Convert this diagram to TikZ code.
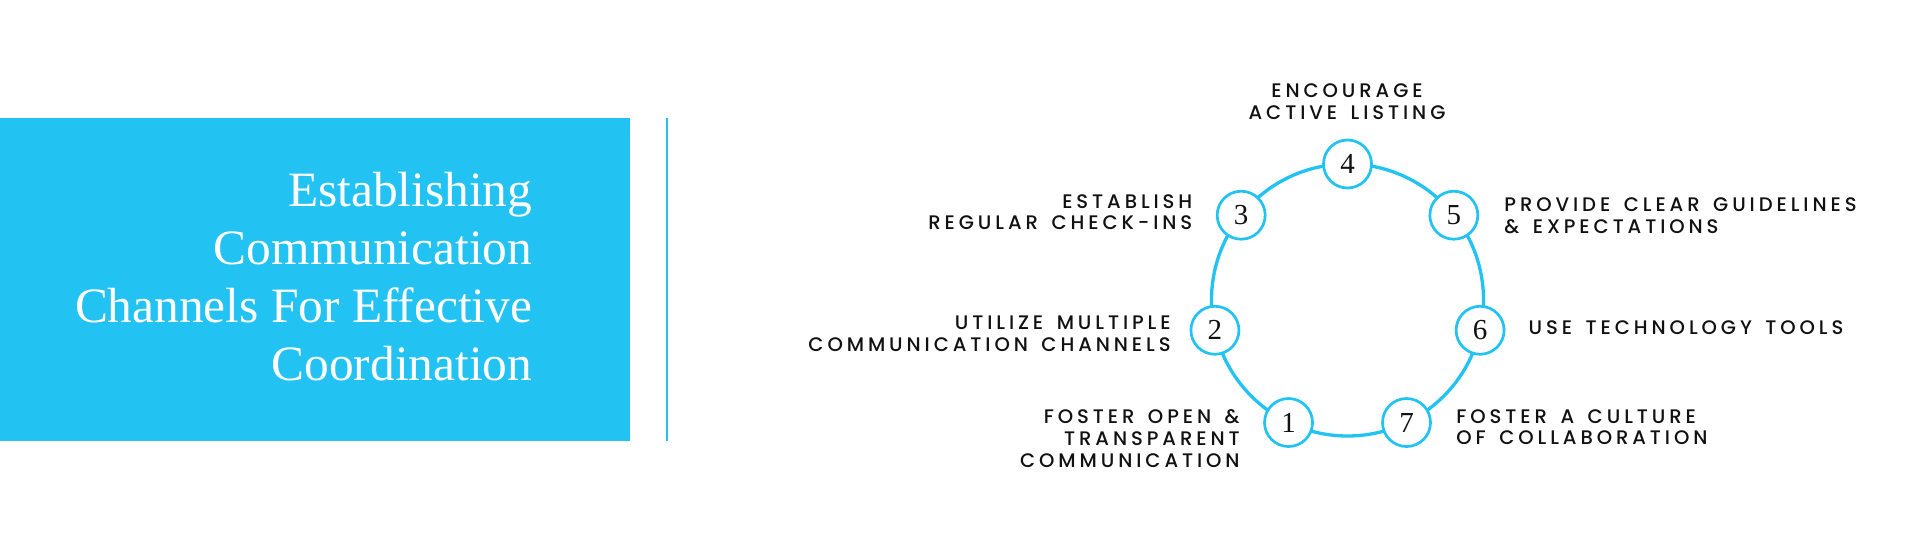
\documentclass[tikz,border=0pt]{standalone}
\usepackage{fontspec}
\setmainfont{Liberation Serif}
\newfontfamily\labfont{Poppins}[UprightFont=* Medium, LetterSpace=20, WordSpace=1.5]
\definecolor{cblue}{HTML}{22C3F3}
\definecolor{ink}{HTML}{111111}
\tikzset{
  lab/.style={font=\labfont\fontsize{9.8pt}{10.85pt}\selectfont, text=ink, inner sep=0pt},
  num/.style={circle, draw=cblue, line width=1.35pt, fill=white, minimum size=24pt, inner sep=0pt, font=\fontsize{14.5pt}{16pt}\selectfont, text=ink},
  ring/.style={draw=cblue, line width=1.65pt},
  title/.style={font=\fontsize{24.7pt}{28.9pt}\selectfont, text=white, inner sep=0pt}
}
\begin{document}
\begin{tikzpicture}[x=0.5pt,y=-0.5pt]
\useasboundingbox (0,0) rectangle (1920,560);
\fill[white] (0,0) rectangle (1920,560);
% left panel
\fill[cblue] (0,118.3) rectangle (630,441);
\node[title, anchor=base east] (title) at (532.7,206.7)
  {\begin{tabular}[t]{@{}r@{}}Establishing\\Communication\\Channels For Effective\\Coordination\end{tabular}};
\draw[cblue, line width=1pt] (667.3,118.3) -- (667.3,441);
% ring
\coordinate (c) at (1347.5,300);
\draw[ring] (c) circle[radius=68pt];
\path (c) ++(244.29:68pt) node[num] (n1) {1};
\path (c) ++(192.86:68pt) node[num] (n2) {2};
\path (c) ++(141.43:68pt) node[num] (n3) {3};
\path (c) ++(90:68pt) node[num] (n4) {4};
\path (c) ++(38.57:68pt) node[num] (n5) {5};
\path (c) ++(-12.86:68pt) node[num] (n6) {6};
\path (c) ++(-64.29:68pt) node[num] (n7) {7};
% labels
\node[lab, anchor=base] (t4) at (1347,97.7)
  {\begin{tabular}[t]{@{}c@{}}ENCOURAGE\\ACTIVE LISTING\end{tabular}};
\node[lab, anchor=base east] (t3) at (1192.7,208.3)
  {\begin{tabular}[t]{@{}r@{}}ESTABLISH\\REGULAR CHECK-INS\end{tabular}};
\node[lab, anchor=base east] (t2) at (1171,330)
  {\begin{tabular}[t]{@{}r@{}}UTILIZE MULTIPLE\\COMMUNICATION CHANNELS\end{tabular}};
\node[lab, anchor=base east] (t1) at (1240,424)
  {\begin{tabular}[t]{@{}r@{}}FOSTER OPEN \&\\TRANSPARENT\\COMMUNICATION\end{tabular}};
\node[lab, anchor=base west] (t5) at (1504,211.7)
  {\begin{tabular}[t]{@{}l@{}}PROVIDE CLEAR GUIDELINES\\\& EXPECTATIONS\end{tabular}};
\node[lab, anchor=base west] (t6) at (1528.3,335) {USE TECHNOLOGY TOOLS};
\node[lab, anchor=base west] (t7) at (1456,423.3)
  {\begin{tabular}[t]{@{}l@{}}FOSTER A CULTURE\\OF COLLABORATION\end{tabular}};
\end{tikzpicture}
\end{document}
